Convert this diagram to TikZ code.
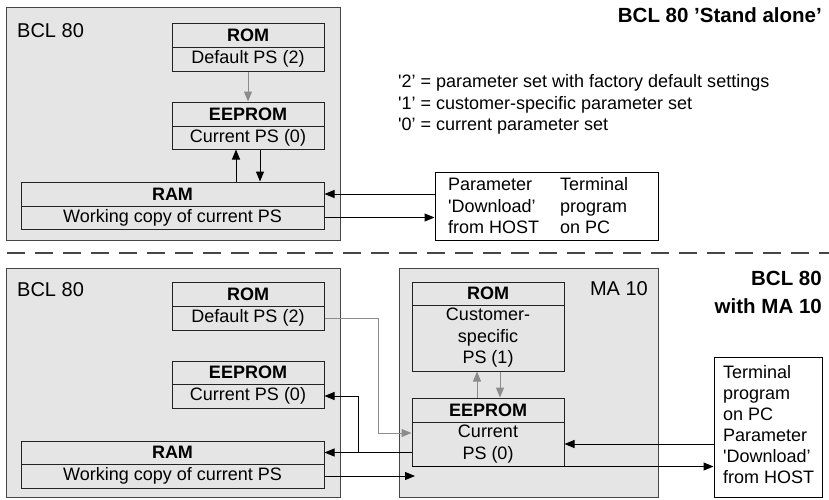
\documentclass[tikz,border=0pt]{standalone}
\usepackage{fontspec}
\setmainfont{Liberation Sans}
\usetikzlibrary{arrows.meta}
\definecolor{boxfill}{RGB}{229,229,229}
\definecolor{outerline}{RGB}{70,70,70}
\definecolor{innerline}{RGB}{35,35,35}
\definecolor{graylink}{RGB}{140,140,140}
\newcommand{\fsz}{\fontsize{18}{21.5}\selectfont}
\newcommand{\fbig}{\fontsize{20}{24}\selectfont}
\newcommand{\ftitle}{\fontsize{20.5}{28}\selectfont\bfseries}
\newcommand{\sq}{\textquotesingle}
\begin{document}
\begin{tikzpicture}[x=1pt,y=-1pt,
  sz/.style 2 args={minimum width=#1pt, minimum height=#2pt},
  outerbox/.style={draw=outerline, fill=boxfill, line width=1pt, inner sep=0pt},
  part/.style={draw=innerline, fill=boxfill, line width=1pt, inner sep=0pt, font=\fsz, align=center},
  head/.style={part, font=\fsz\bfseries},
  termbox/.style={draw=black, fill=white, line width=1pt, inner sep=0pt},
  txt/.style={inner sep=0pt, anchor=base west, font=\fsz},
  conn/.style={draw=black, line width=1pt, -{Triangle[length=10pt,width=8pt]}},
  plain/.style={draw=black, line width=1pt},
  gconn/.style={draw=graylink, line width=1pt, -{Triangle[length=10pt,width=8pt]}}
]
\useasboundingbox (0,0) rectangle (829,499);

% ---------------- top part ----------------
\node[outerbox, sz={334}{233}] (outerA) at (173,123.5) {};
\node[txt, font=\fbig] (lblA) at (17,37) {BCL 80};
\node[head, sz={152}{24}] (romAh) at (248,35) {ROM};
\node[part, sz={152}{24}] (romAb) at (248,59) {Default PS (2)};
\node[head, sz={152}{24}] (eepAh) at (248,114) {EEPROM};
\node[part, sz={152}{23}] (eepAb) at (248,137.5) {Current PS (0)};
\node[head, sz={303}{24}] (ramAh) at (172.5,194) {RAM};
\node[part, sz={303}{23}] (ramAb) at (172.5,217.5) {Working copy of current PS};

\node[termbox, sz={223}{68}] (termA) at (546.5,206) {};
\node[txt] (tA1) at (448,190) {Parameter};
\node[txt] (tA2) at (448,212) {\sq Download’};
\node[txt] (tA3) at (448,233) {from HOST};
\node[txt] (tA4) at (560,190) {Terminal};
\node[txt] (tA5) at (560,212) {program};
\node[txt] (tA6) at (560,233) {on PC};

\node[inner sep=0pt, anchor=base east, font=\ftitle] (titleA) at (822,22) {BCL 80 ’Stand alone’};
\node[txt] (lg1) at (398,87) {\sq2’ = parameter set with factory default settings};
\node[txt] (lg2) at (398,109) {\sq1’ = customer-specific parameter set};
\node[txt] (lg3) at (398,130) {\sq0’ = current parameter set};

\coordinate (xu) at (236,0);
\coordinate (xd) at (260,0);
\draw[gconn] (romAb.south) -- (eepAh.north);
\draw[conn] (xu |- ramAh.north) -- (xu |- eepAb.south);
\draw[conn] (xd |- eepAb.south) -- (xd |- ramAh.north);
\draw[conn] (termA.west |- ramAh.east) -- (ramAh.east);
\draw[conn] (ramAb.east) -- (termA.west |- ramAb.east);

% dashed separator
\coordinate (dl) at (7,253);
\coordinate (dr) at (829,253);
\draw[draw=outerline, line width=1.2pt, dash pattern=on 18pt off 10pt] (dl) -- (dr);

% ---------------- bottom part ----------------
\node[outerbox, sz={334}{229}] (outerB) at (173,382.5) {};
\node[txt, font=\fbig] (lblB) at (17,296) {BCL 80};
\node[head, sz={152}{24}] (romBh) at (248,294) {ROM};
\node[part, sz={152}{24}] (romBb) at (248,318) {Default PS (2)};
\node[head, sz={152}{23}] (eepBh) at (248,372.5) {EEPROM};
\node[part, sz={152}{24}] (eepBb) at (248,396) {Current PS (0)};
\node[head, sz={303}{23}] (ramBh) at (172.5,452.5) {RAM};
\node[part, sz={303}{24}] (ramBb) at (172.5,476) {Working copy of current PS};

\node[outerbox, sz={259}{229}] (ma) at (528.5,382.5) {};
\node[inner sep=0pt, anchor=base east, font=\fbig] (lblMA) at (648,295) {MA 10};
\node[head, sz={152}{23}] (maromh) at (488,293.5) {ROM};
\node[part, sz={152}{66}] (maromb) at (488,338) {Customer-\\specific\\PS (1)};
\node[head, sz={152}{24}] (maeeph) at (488,410) {EEPROM};
\node[part, sz={152}{44}] (maeepb) at (488,444) {Current\\PS (0)};

\node[termbox, sz={108}{140}] (termB) at (768,427) {};
\node[txt] (tB1) at (723,378) {Terminal};
\node[txt] (tB2) at (723,399) {program};
\node[txt] (tB3) at (723,420) {on PC};
\node[txt] (tB4) at (723,441) {Parameter};
\node[txt] (tB5) at (723,462) {\sq Download’};
\node[txt] (tB6) at (723,483) {from HOST};

\node[inner sep=0pt, anchor=base east, font=\ftitle] (titleB1) at (822,285) {BCL 80};
\node[inner sep=0pt, anchor=base east, font=\ftitle] (titleB2) at (822,313) {with MA 10};

% connectors bottom
\coordinate (g1) at (378,433);
\coordinate (xb) at (358,0);
\coordinate (xgu) at (477,0);
\coordinate (xgd) at (500,0);
\coordinate (rEnd) at (415,476);
\draw[gconn] (romBb.east) -| (g1) -- (maeepb.west |- g1);
\draw[conn] (maeepb.west |- ramBh.east) -- (ramBh.east);
\draw[conn] (xb |- ramBh.east) |- (eepBb.east);
\draw[conn] (ramBb.east) -- (rEnd);
\draw[conn] (termB.west |- maeepb.east) -- (maeepb.east);
\draw[conn] (maeepb.south west) -- (termB.west |- maeepb.south west);
\draw[gconn] (xgu |- maeeph.north) -- (xgu |- maromb.south);
\draw[gconn] (xgd |- maromb.south) -- (xgd |- maeeph.north);
\end{tikzpicture}
\end{document}
